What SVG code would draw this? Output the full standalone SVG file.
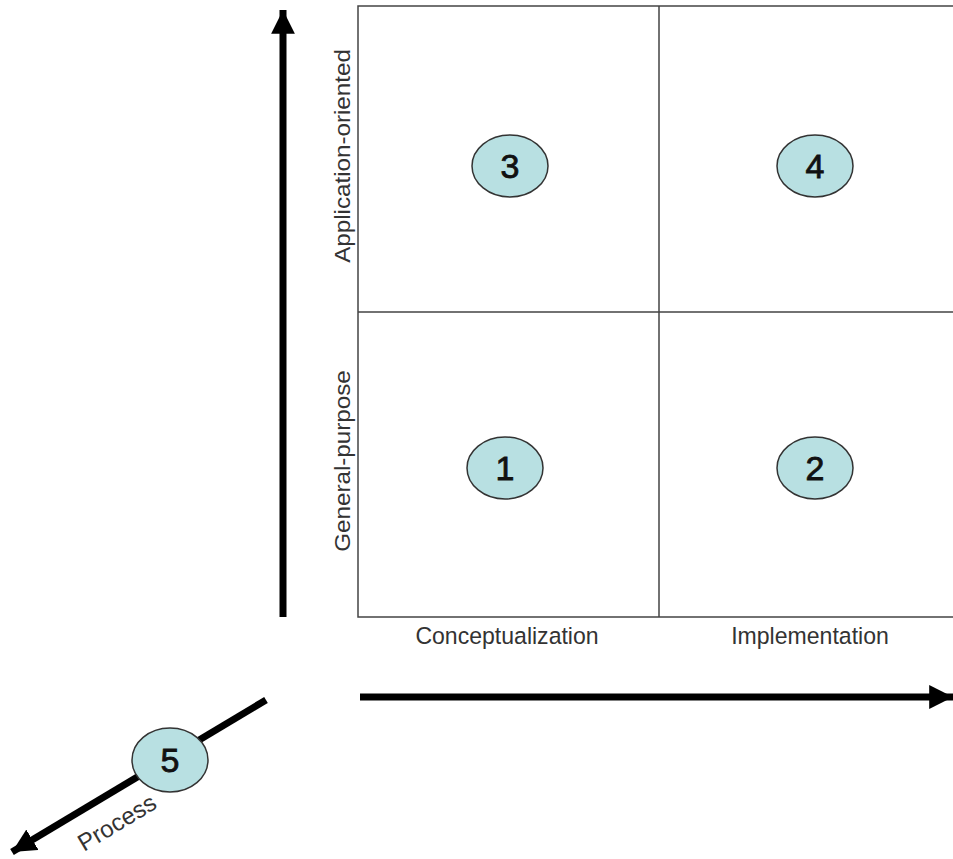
<svg xmlns="http://www.w3.org/2000/svg" width="953" height="859" viewBox="0 0 953 859">
<defs>
<style>
.grid{fill:none;stroke:#444;stroke-width:1.5}
.axis{stroke:#000;stroke-width:7;fill:none}
.node ellipse{fill:#b8e0e2;stroke:#333;stroke-width:1.5}
.node text{font-family:"Liberation Sans",Arial,sans-serif;font-size:34px;fill:#111;stroke:#111;stroke-width:0.8;text-anchor:middle}
.lbl{font-family:"Liberation Sans",Arial,sans-serif;font-size:22px;fill:#333;text-anchor:middle}
</style>
<marker id="ah" viewBox="0 0 10 10" refX="10" refY="5" markerWidth="3.4" markerHeight="3.4" orient="auto" markerUnits="strokeWidth">
<path d="M0,0 L10,5 L0,10 z" fill="#000"/>
</marker>
</defs>
<rect width="953" height="859" fill="#fff"/>
<g id="grid">
<path class="grid" d="M960,6 H358 V617 H960 M659,6 V617 M358,312 H960"/>
</g>
<g id="connectors">
<line class="axis" x1="283" y1="617" x2="283" y2="10" marker-end="url(#ah)"/>
<line class="axis" x1="360" y1="697" x2="953" y2="697" marker-end="url(#ah)"/>
<line class="axis" x1="266" y1="700" x2="12" y2="852" marker-end="url(#ah)"/>
</g>
<g id="labels">
<text class="lbl" transform="translate(507,644) scale(1.048,1.08)">Conceptualization</text>
<text class="lbl" transform="translate(810,644) scale(1.048,1.08)">Implementation</text>
<text class="lbl" transform="translate(350,156) rotate(-90) scale(1.1,1)">Application-oriented</text>
<text class="lbl" transform="translate(350,461) rotate(-90) scale(1.1,1)">General-purpose</text>
<text class="lbl" style="text-anchor:start;font-size:24px" transform="translate(84,852) rotate(-31)">Process</text>
</g>
<g id="n3" class="node"><ellipse cx="510" cy="166" rx="38" ry="31"/><text x="510" y="178">3</text></g>
<g id="n4" class="node"><ellipse cx="815" cy="166" rx="38" ry="31"/><text x="815" y="178">4</text></g>
<g id="n1" class="node"><ellipse cx="505" cy="468" rx="38" ry="31"/><text x="505" y="480">1</text></g>
<g id="n2" class="node"><ellipse cx="815" cy="468" rx="38" ry="31"/><text x="815" y="480">2</text></g>
<g id="n5" class="node"><ellipse cx="170" cy="760" rx="38" ry="32"/><text x="170" y="772">5</text></g>
</svg>
